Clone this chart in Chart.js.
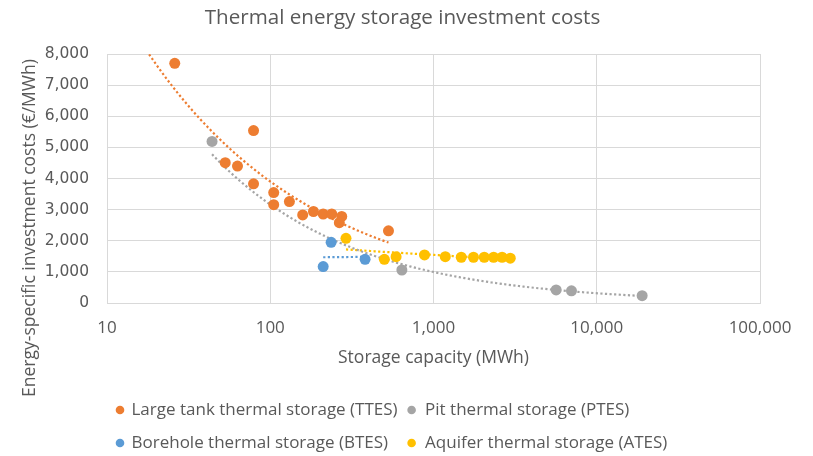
<!DOCTYPE html>
<html>
<head>
<meta charset="utf-8">
<title>Thermal energy storage investment costs</title>
<script src="https://cdn.jsdelivr.net/npm/chart.js@4.4.1/dist/chart.umd.min.js"></script>
<style>
  html, body { margin: 0; padding: 0; background: #ffffff; }
  #wrap { width: 813px; height: 456px; position: relative; }
</style>
</head>
<body>
<div id="wrap"><canvas id="chart"></canvas></div>
<script>
// ---- data -------------------------------------------------------------
const seriesNames = [
  'Large tank thermal storage (TTES)',
  'Pit thermal storage (PTES)',
  'Borehole thermal storage (BTES)',
  'Aquifer thermal storage (ATES)'
];
const seriesColors = ['#ED7D31', '#A5A5A5', '#5B9BD5', '#FFC000'];

// storage capacity in MWh, specific cost in EUR/MWh
const ttesCapacity = [26, 79, 53, 63, 79, 105, 105, 131, 158, 184, 211, 238, 274, 265, 530];
const ttesCost     = [7700, 5540, 4510, 4400, 3830, 3550, 3160, 3260, 2830, 2940, 2860, 2860, 2780, 2580, 2320];

const ptesCapacity = [44, 640, 5640, 7000, 18970];
const ptesCost     = [5190, 1060, 420, 390, 235];

const btesCapacity = [236, 211, 381];
const btesCost     = [1950, 1170, 1405];

const atesCapacity = [291, 500, 590, 881, 1181, 1479, 1758, 2046, 2335, 2630, 2953];
const atesCost     = [2080, 1405, 1490, 1545, 1490, 1470, 1470, 1470, 1470, 1470, 1440];

// power trendlines y = a * x^b, one per series
const trendA = [26890, 31950, 1364, 2830];
const trendB = [-0.419, -0.5021, 0.014, -0.0876];
// trendline start (backward forecast for TTES); null = first data point
const trendStart = [12, null, null, null];

const xTickValues = [10, 100, 1000, 10000, 100000];
const yMin = 0, yMax = 8000, yStep = 1000;

const chartTitle = 'Thermal energy storage investment costs';
const xTitle = 'Storage capacity (MWh)';
const yTitle = 'Energy-specific investment costs (€/MWh)';

// ---- helpers ----------------------------------------------------------
const seriesData = [
  [ttesCapacity, ttesCost],
  [ptesCapacity, ptesCost],
  [btesCapacity, btesCost],
  [atesCapacity, atesCost]
];

function toPoints(xs, ys) {
  return xs.map((x, i) => ({ x: x, y: ys[i] }));
}

// sample the trend curve on a log-spaced grid between two capacities
function trendCurve(a, b, from, to) {
  const steps = 80, l0 = Math.log(from), l1 = Math.log(to);
  const pts = [];
  for (let k = 0; k <= steps; k++) {
    const x = Math.exp(l0 + (l1 - l0) * k / steps);
    pts.push({ x: x, y: a * Math.pow(x, b) });
  }
  return pts;
}

const datasets = [];
seriesData.forEach(([xs, ys], i) => {
  datasets.push({
    type: 'scatter',
    label: seriesNames[i],
    data: toPoints(xs, ys),
    backgroundColor: seriesColors[i],
    borderColor: seriesColors[i],
    pointRadius: 5.5,
    pointHoverRadius: 5.5,
    pointBorderWidth: 0,
    order: 0,
    isSeries: true
  });
});
seriesData.forEach(([xs], i) => {
  const from = trendStart[i] !== null ? trendStart[i] : Math.min(...xs);
  datasets.push({
    type: 'line',
    label: seriesNames[i] + ' trend',
    data: trendCurve(trendA[i], trendB[i], from, Math.max(...xs)),
    borderColor: seriesColors[i],
    borderWidth: 2.2,
    borderDash: [2.2, 2.4],
    borderCapStyle: 'butt',
    pointRadius: 0,
    fill: false,
    tension: 0,
    order: 1,
    isSeries: false
  });
});

const textColor = '#595959';
const gridColor = '#D9D9D9';
const mainFont = 'Open Sans';

// rotated y-axis title and two-column legend
const decorations = {
  id: 'decorations',
  afterDraw(chart) {
    const ctx = chart.ctx;
    ctx.save();
    ctx.fillStyle = textColor;
    ctx.font = '17.5px "' + mainFont + '"';
    ctx.textAlign = 'center';
    ctx.textBaseline = 'middle';
    ctx.translate(30, 228);
    ctx.rotate(-Math.PI / 2);
    ctx.fillText(yTitle, 0, 0);
    ctx.restore();

    const items = chart.data.datasets.filter(d => d.isSeries);
    ctx.save();
    ctx.font = '17px "' + mainFont + '"';
    ctx.textBaseline = 'middle';
    ctx.textAlign = 'left';
    const col1Dot = 120, textGap = 11.5;
    const col1Text = col1Dot + textGap;
    const leftItems = [items[0], items[2]];
    const leftWidth = Math.max(...leftItems.map(d => ctx.measureText(d.label).width));
    const col2Dot = col1Text + leftWidth + 14;
    const rows = [410, 443];
    items.forEach((d, i) => {
      const row = Math.floor(i / 2), col = i % 2;
      const dotX = col === 0 ? col1Dot : col2Dot;
      const y = rows[row];
      ctx.fillStyle = d.backgroundColor;
      ctx.beginPath();
      ctx.arc(dotX, y, 4.3, 0, Math.PI * 2);
      ctx.fill();
      ctx.fillStyle = textColor;
      ctx.fillText(d.label, dotX + textGap + (col === 1 ? 2 : 0), y);
    });
    ctx.restore();
  }
};

new Chart(document.getElementById('chart'), {
  data: { datasets: datasets },
  plugins: [decorations],
  options: {
    responsive: true,
    maintainAspectRatio: false,
    animation: false,
    devicePixelRatio: 1,
    layout: { padding: { top: 0, left: 0, right: 8, bottom: 83 } },
    plugins: {
      legend: { display: false },
      tooltip: { enabled: false },
      title: {
        display: true,
        text: chartTitle,
        color: textColor,
        font: { family: mainFont, size: 20.6, weight: 'normal', lineHeight: 1.2 },
        padding: { top: 6, bottom: 23.3 }
      }
    },
    scales: {
      x: {
        type: 'logarithmic',
        position: 'bottom',
        min: xTickValues[0],
        max: xTickValues[xTickValues.length - 1],
        afterBuildTicks(scale) {
          scale.ticks = xTickValues.map(v => ({ value: v, major: true }));
        },
        afterFit(scale) {
          scale.height = 70;
          scale.paddingRight = 53;
        },
        ticks: {
          color: textColor,
          font: { family: mainFont, size: 17 },
          padding: 15,
          maxRotation: 0,
          autoSkip: false,
          callback: v => Number(v).toLocaleString('en-US')
        },
        grid: { color: gridColor, lineWidth: 1, drawTicks: false },
        border: { display: true, color: gridColor },
        title: {
          display: true,
          text: xTitle,
          color: textColor,
          font: { family: mainFont, size: 17.5, lineHeight: 1.2 },
          padding: { top: 0, bottom: 4 }
        }
      },
      y: {
        type: 'linear',
        min: yMin,
        max: yMax,
        afterFit(scale) { scale.width = 107; },
        ticks: {
          stepSize: yStep,
          color: textColor,
          font: { family: 'DejaVu Sans', size: 15.5 },
          padding: 18,
          callback: v => Number(v).toLocaleString('en-US')
        },
        grid: { color: gridColor, lineWidth: 1, drawTicks: false },
        border: { display: true, color: gridColor }
      }
    }
  }
});
</script>
</body>
</html>
